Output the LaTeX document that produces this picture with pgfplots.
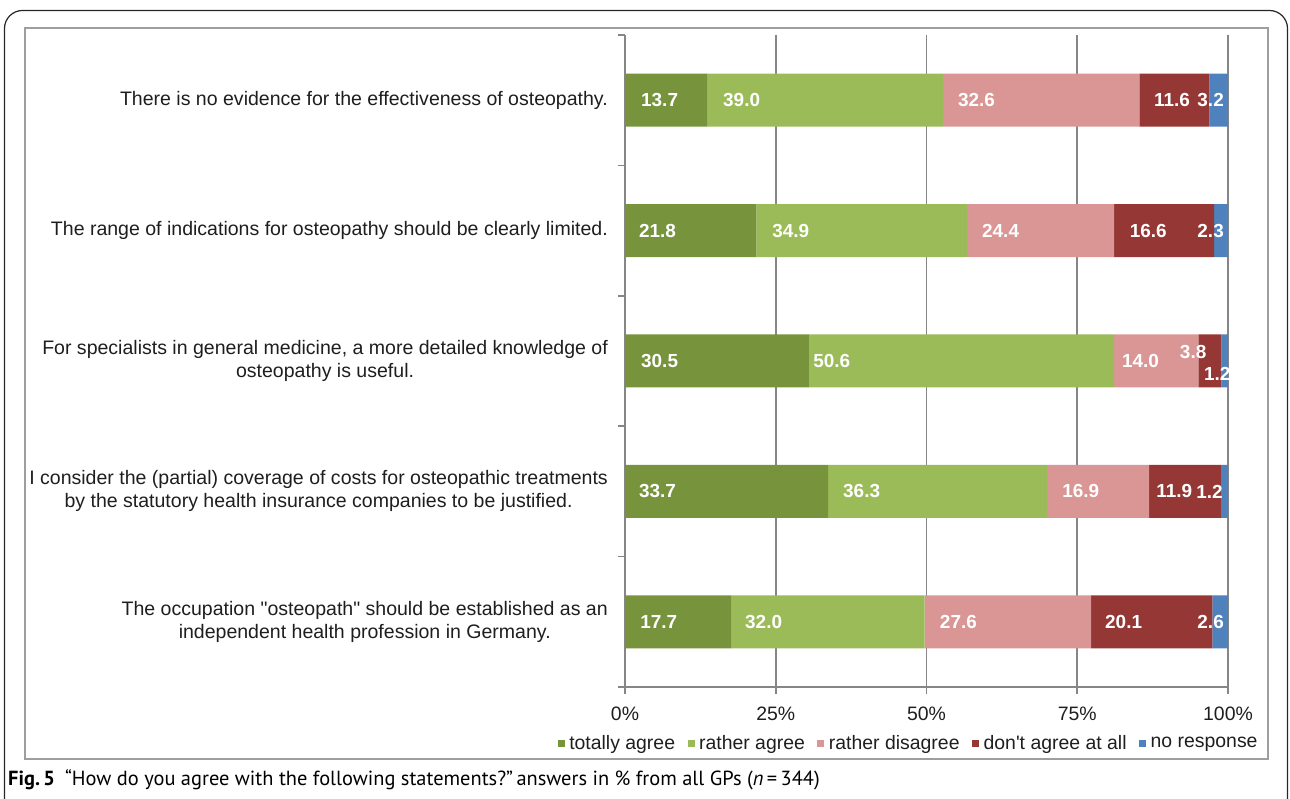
\documentclass[border=0pt]{standalone}
\usepackage{pgfplots}
\pgfplotsset{compat=1.18}
\usepackage{pgfplotstable}
\usepackage{fontspec}
\setmainfont{Liberation Sans}
\newfontfamily\capfont{PT Sans}
\definecolor{cTA}{HTML}{77933C}
\definecolor{cRA}{HTML}{9BBB59}
\definecolor{cRD}{HTML}{D99694}
\definecolor{cDA}{HTML}{953735}
\definecolor{cNR}{HTML}{4F81BD}
\definecolor{axgray}{HTML}{868686}
\definecolor{txt}{HTML}{1E1E1E}

\pgfplotstableread{
row ta ra rd da nr
1 13.7 39.0 32.6 11.6 3.2
2 21.8 34.9 24.4 16.6 2.3
3 30.5 50.6 14.0 3.8 1.2
4 33.7 36.3 16.9 11.9 1.2
5 17.7 32.0 27.6 20.1 2.6
}\bars

\pgfplotstableread{
x y lab
2.65 1 13.7
16.25 1 39.0
55.2 1 32.6
87.7 1 11.6
94.9 1 3.2
2.3 2 21.8
24.4 2 34.9
59.2 2 24.4
83.7 2 16.6
94.9 2 2.3
2.65 3 30.5
31.2 3 50.6
82.4 3 14.0
92.0 2.93 3.8
96.0 3.10 1.2
2.3 4 33.7
36.15 4 36.3
72.5 4 16.9
88.1 4 11.9
94.7 4 1.2
2.5 5 17.7
19.9 5 32.0
52.2 5 27.6
79.6 5 20.1
94.9 5 2.6
}\labels

\begin{document}
\begin{tikzpicture}[x=1bp,y=1bp]
\useasboundingbox (0,0) rectangle (1290,799);
\begin{scope}
\clip (0,0) rectangle (1290,799);
\draw[line width=1.2bp, color=black!85, rounded corners=18bp] (4.5,-40) rectangle (1287.5,788.5);
\end{scope}
\draw[line width=2bp, color=black!38] (25,40) rectangle (1268,771);

\begin{axis}[
  at={(625bp,112bp)}, anchor=south west,
  scale only axis, width=603bp, height=652bp,
  xbar stacked, bar width=53bp,
  xmin=0, xmax=100, ymin=0.5, ymax=5.5, y dir=reverse,
  axis x line*=bottom, axis y line*=left,
  axis line style={axgray, line width=2bp},
  xmajorgrids, grid style={axgray, line width=1.6bp},
  xtick={0,25,50,75,100},
  xticklabels={0\%,25\%,50\%,75\%,100\%},
  tick align=outside, major tick length=7bp,
  tick style={axgray, line width=1.6bp},
  xticklabel style={font=\fontsize{19.5}{23}\selectfont, text=txt, inner sep=0pt, yshift=-13bp},
  ytick={0.5,1.5,2.5,3.5,4.5,5.5},
  yticklabels={,,,,,},
  extra y ticks={1,2,3,4,5},
  extra y tick labels={
    {There is no evidence for the effectiveness of osteopathy.},
    {The range of indications for osteopathy should be clearly limited.},
    {For specialists in general medicine, a more detailed knowledge of\\osteopathy is useful.},
    {I consider the (partial) coverage of costs for osteopathic treatments\\by the statutory health insurance companies to be justified.},
    {The occupation \textquotedbl osteopath\textquotedbl\ should be established as an\\independent health profession in Germany.}},
  extra y tick style={tick style={draw=none},
    yticklabel style={font=\fontsize{19.6}{23}\selectfont, text=txt, align=center, inner sep=0pt, xshift=-10bp}},
  legend style={at={(axis description cs:0.47,-0.086)}, anchor=center, draw=none, fill=none,
    legend columns=-1, font=\fontsize{19.5}{23}\selectfont, text=txt,
    nodes={inner sep=1.5bp},
    /tikz/every odd column/.append style={column sep=3bp},
    /tikz/every even column/.append style={column sep=11bp}},
  legend image code/.code={\fill[#1] (0bp,-3.5bp) rectangle (7bp,3.5bp);},
]
\addplot[fill=cTA, draw=none] table[x=ta, y=row] {\bars};
\addplot[fill=cRA, draw=none] table[x=ra, y=row] {\bars};
\addplot[fill=cRD, draw=none] table[x=rd, y=row] {\bars};
\addplot[fill=cDA, draw=none] table[x=da, y=row] {\bars};
\addplot[fill=cNR, draw=none] table[x=nr, y=row] {\bars};
\legend{totally agree, rather agree, rather disagree, don\textquotesingle t agree at all, no response}
\end{axis}

\begin{axis}[
  at={(625bp,112bp)}, anchor=south west,
  scale only axis, width=603bp, height=652bp,
  xmin=0, xmax=100, ymin=0.5, ymax=5.5, y dir=reverse,
  hide axis, clip=false,
]
\addplot[only marks, mark=none, nodes near coords, point meta=explicit symbolic,
  nodes near coords align={anchor=west},
  every node near coord/.append style={anchor=west, inner sep=0pt, text=white,
    font=\fontsize{19}{22}\selectfont\bfseries}]
  table[x=x, y=y, meta=lab] {\labels};
\end{axis}

\node[anchor=base west, inner sep=0pt, text=black] at (8,13)
  {\capfont\fontsize{20.5}{24}\selectfont\textbf{Fig.\,5}\hspace{10bp}“How do you agree with the following statements?”\,answers in \% from all GPs (\textit{n}\,=\,344)};
\end{tikzpicture}
\end{document}
